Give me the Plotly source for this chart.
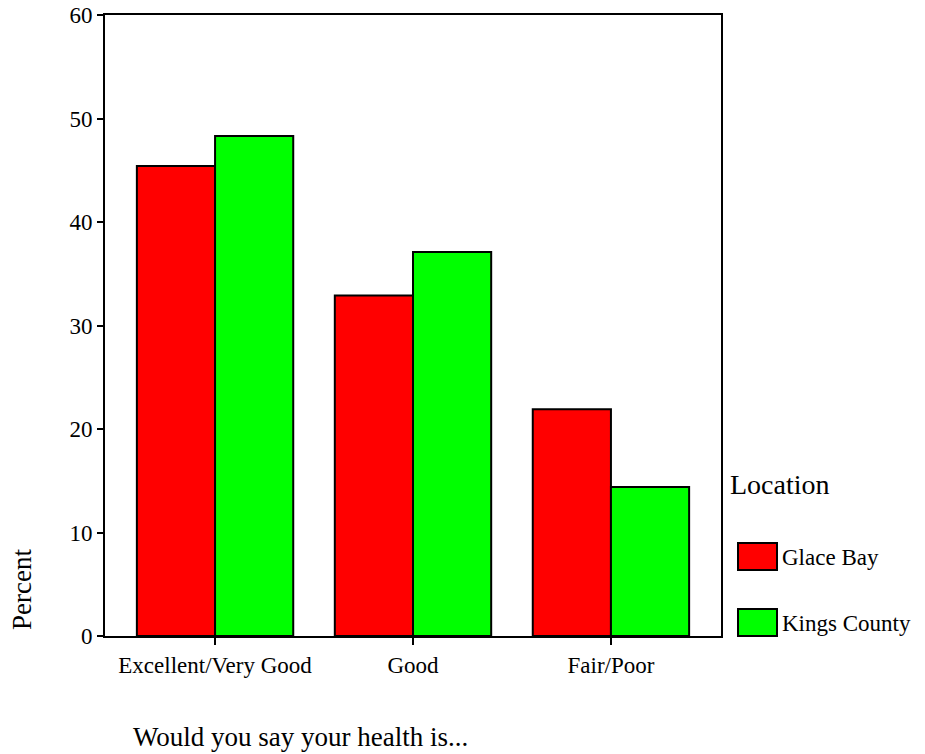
import plotly.graph_objects as go

# --- data
categories = ['Excellent/Very Good', 'Good', 'Fair/Poor']
glace_bay = [45.4, 32.9, 21.9]
kings_county = [48.3, 37.1, 14.4]
series_names = ['Glace Bay', 'Kings County']
series_colors = ['#ff0000', '#00ff00']

W, H = 925, 754
L, R, T, B = 105, 204, 15, 118
font = 'Liberation Serif, Times New Roman, serif'


# pixel -> paper helpers (for legend / titles)
def px(x):
    return (x - L) / (W - L - R)


def py(y):
    return (H - B - y) / (H - T - B)


fig = go.Figure()
for name, vals, col in zip(series_names, [glace_bay, kings_county], series_colors):
    fig.add_trace(go.Bar(x=categories, y=vals, name=name, marker_color=col,
                         marker_line_color='black', marker_line_width=2,
                         showlegend=False))

fig.update_layout(
    width=W, height=H, margin=dict(l=L, r=R, t=T, b=B, autoexpand=False),
    plot_bgcolor='white', paper_bgcolor='white',
    barmode='group', bargap=0.21, bargroupgap=0,
    font=dict(family=font, size=18, color='black'),
)
fig.update_xaxes(range=[-0.556, 2.556], showline=True, linecolor='black', linewidth=2,
                 mirror=True, ticks='outside', ticklen=7, tickwidth=2, tickcolor='black',
                 showgrid=False, automargin=False, tickfont=dict(size=23))
fig.update_yaxes(range=[0, 60], dtick=10, showline=True, linecolor='black', linewidth=2,
                 mirror=True, ticks='outside', ticklen=6, tickwidth=2, tickcolor='black',
                 showgrid=False, zeroline=False, automargin=False, tickfont=dict(size=23))

# axis titles
fig.add_annotation(text='Would you say your health is...', x=px(131), y=py(737),
                   xref='paper', yref='paper', xanchor='left', yanchor='middle',
                   showarrow=False, font=dict(size=27))
fig.add_annotation(text='Percent', x=px(22), y=py(590), textangle=-90,
                   xref='paper', yref='paper', xanchor='center', yanchor='middle',
                   showarrow=False, font=dict(size=27))

# legend drawn by hand to match the boxed swatches
fig.add_annotation(text='Location', x=px(728), y=py(484), xref='paper', yref='paper',
                   xanchor='left', yanchor='middle', showarrow=False, font=dict(size=28))
for i, (name, col) in enumerate(zip(series_names, series_colors)):
    y0 = 543 + i * 66
    fig.add_shape(type='rect', xref='paper', yref='paper',
                  x0=px(738), x1=px(777), y0=py(y0), y1=py(y0 + 27),
                  fillcolor=col, line=dict(color='black', width=2))
    fig.add_annotation(text=name, x=px(780), y=py(y0 + 14), xref='paper', yref='paper',
                       xanchor='left', yanchor='middle', showarrow=False, font=dict(size=23))

fig.write_html('out.html', config={'displayModeBar': False},
               post_script="document.body.style.margin='0';")
